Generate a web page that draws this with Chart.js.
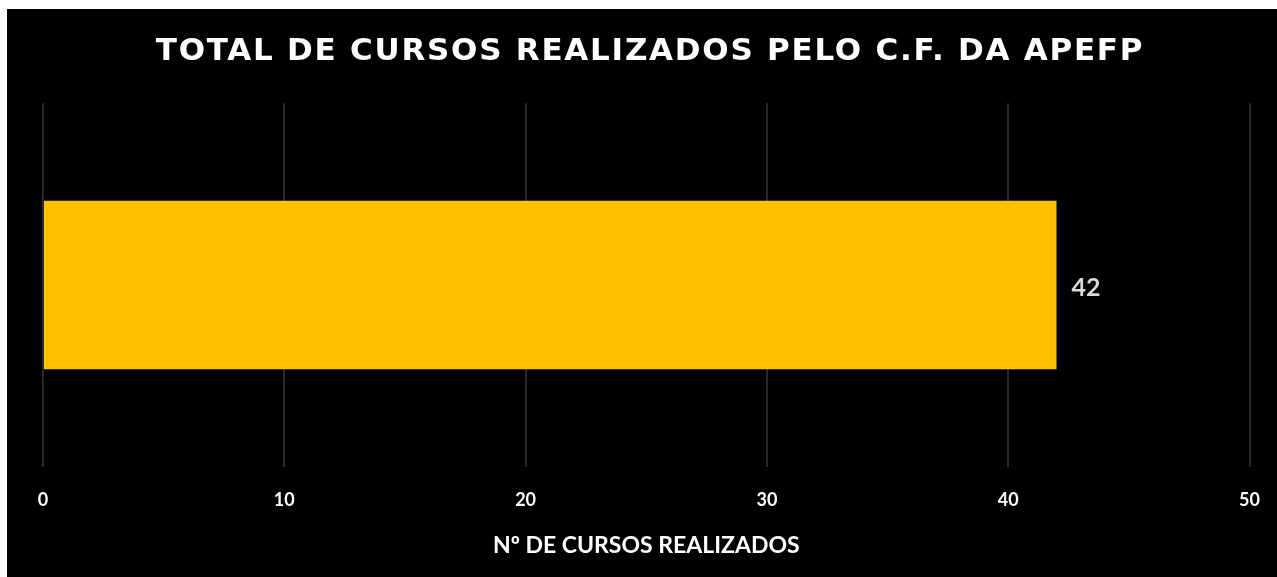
<!DOCTYPE html>
<html>
<head>
<meta charset="utf-8">
<script src="https://cdn.jsdelivr.net/npm/chart.js@4/dist/chart.umd.min.js"></script>
<style>
  html, body { margin: 0; padding: 0; background: #fff; }
  #wrap { position: absolute; left: 7px; top: 9px; width: 1270px; height: 568px; background: #000; }
</style>
</head>
<body>
<div id="wrap"><canvas id="grafico"></canvas></div>
<script>
// dados do gráfico
const categorias = ['Cursos'];
const valores = [42];
const escalaMin = 0;
const escalaMax = 50;
const passo = 10;

// espaçamento entre letras só no título
const tituloEspacado = {
  id: 'tituloEspacado',
  beforeDraw(chart) {
    const bloco = chart.titleBlock;
    if (!bloco || bloco._espacado) return;
    const original = bloco.draw.bind(bloco);
    bloco.draw = function() {
      const c = chart.ctx;
      c.save();
      c.letterSpacing = '1.75px';
      original();
      c.restore();
    };
    bloco._espacado = true;
  }
};

// rótulo de valor ao lado da barra
const rotuloValor = {
  id: 'rotuloValor',
  afterDatasetsDraw(chart) {
    const ctx = chart.ctx;
    const meta = chart.getDatasetMeta(0);
    ctx.save();
    ctx.fillStyle = '#d9d9d9';
    ctx.font = 'bold 25px Lato';
    ctx.textAlign = 'left';
    ctx.textBaseline = 'middle';
    meta.data.forEach((barra, i) => {
      ctx.fillText(valores[i], barra.x + 15, barra.y + 3);
    });
    ctx.restore();
  }
};

const ctx = document.getElementById('grafico').getContext('2d');
new Chart(ctx, {
  type: 'bar',
  data: {
    labels: categorias,
    datasets: [{
      label: 'Nº de cursos',
      data: valores,
      backgroundColor: '#ffc000',
      barPercentage: 0.464,
      categoryPercentage: 1
    }]
  },
  options: {
    indexAxis: 'y',
    responsive: true,
    maintainAspectRatio: false,
    animation: false,
    layout: { padding: { left: 36, right: 20, top: 24, bottom: 0 } },
    plugins: {
      legend: { display: false },
      tooltip: { enabled: false },
      title: {
        display: true,
        text: 'TOTAL DE CURSOS REALIZADOS PELO C.F. DA APEFP',
        color: '#ffffff',
        font: { family: 'DejaVu Sans', size: 31, weight: 'bold' },
        padding: { top: 0, bottom: 33 }
      }
    },
    scales: {
      x: {
        min: escalaMin,
        max: escalaMax,
        ticks: {
          stepSize: passo,
          color: '#ffffff',
          font: { family: 'Lato', size: 18, weight: 'bold' },
          padding: 17
        },
        grid: { color: '#282828', lineWidth: 2, drawTicks: true, tickLength: 6, tickColor: 'rgba(0,0,0,0)' },
        border: { display: false },
        title: {
          display: true,
          text: 'Nº DE CURSOS REALIZADOS',
          color: '#ffffff',
          font: { family: 'Lato', size: 23, weight: 'bold' },
          padding: { top: 3, bottom: 18 }
        }
      },
      y: {
        display: false
      }
    }
  },
  plugins: [tituloEspacado, rotuloValor]
});
</script>
</body>
</html>
